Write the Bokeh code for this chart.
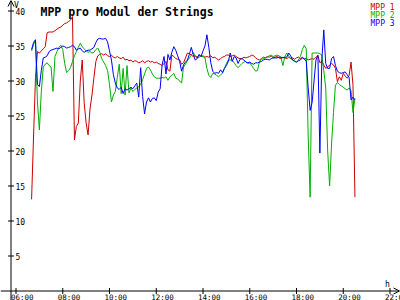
import numpy as np
from bokeh.plotting import figure
from bokeh.models import Arrow, OpenHead, Label
from bokeh.core.properties import value
from bokeh.embed import file_html
from bokeh.resources import INLINE

# ---------------- data ----------------
START_HOUR = 6 + 40 / 60      # first sample 06:40
STEP_MIN = 5                  # logger interval (minutes)

mpp1 = [13.1, 22.0, 30.5, 34.2, 34.0, 34.3, 34.6, 34.9, 36.9, 37.0,
        37.0, 37.0, 37.2, 37.4, 37.6, 37.7, 38.0, 38.2, 38.3, 38.5,
        38.7, 39.2, 21.6, 23.5, 24.0, 30.0, 33.0, 26.9, 24.0, 22.3,
        26.0, 28.0, 30.5, 32.8, 33.6, 33.8,
        33.9, 33.7, 33.9, 33.6, 33.5, 33.7, 33.4, 33.3, 33.5, 33.3,
        33.2, 33.4, 33.0, 33.1, 32.9, 33.0, 32.7, 32.9, 32.8, 32.6,
        32.7, 32.9, 32.6, 32.8, 32.9, 32.7, 32.8, 32.6, 32.7, 32.5,
        32.4, 32.2, 32.5, 32.8, 31.6, 31.4, 33.7, 33.5, 33.2,
        33.1, 33.0, 32.4, 32.6, 33.3, 34.0, 33.9, 33.7, 33.5, 33.6,
        33.4, 33.7, 33.5, 33.6, 33.4, 33.5, 33.4, 33.6, 33.3, 33.4,
        33.2, 33.0, 33.2, 33.4, 33.5, 33.7, 33.7, 33.5, 33.6, 33.7,
        33.5, 33.3, 33.2, 33.2, 33.4, 33.3, 33.4,
        33.5, 33.7, 33.6, 33.3, 33.1, 33.0, 33.2, 33.4, 33.3, 33.5,
        33.4, 33.6, 33.3, 33.4, 33.5, 33.3, 33.2, 33.4, 33.3, 33.2,
        33.4, 33.2, 33.3, 33.1, 33.3, 33.4, 33.2, 33.4, 33.1, 33.3,
        33.0, 33.1, 33.2, 33.1, 33.4, 33.6, 32.6, 32.8, 32.3, 31.8,
        32.0, 32.3, 32.5, 32.3, 31.8,
        29.9, 30.6, 30.1, 31.1, 30.7, 30.4, 30.8, 32.7, 29.4, 13.4]

mpp2 = [34.3, 35.2, 35.8, 27.0, 23.0, 28.5, 32.0, 32.4, 32.6, 32.2,
        32.0, 28.5, 33.5, 34.2, 34.8, 35.1, 34.5, 32.5, 31.2, 31.5,
        31.9, 32.8, 33.6, 34.2, 34.8, 35.4, 34.9, 34.6, 34.3, 34.1,
        34.2, 34.0, 34.1, 34.5, 34.7, 34.1,
        33.2, 32.7, 32.2, 31.5, 29.5, 27.0, 28.0, 28.5, 30.5, 32.4,
        28.2, 31.8, 28.0, 32.2, 28.3, 29.0, 28.5, 28.8, 29.0, 29.2,
        29.5, 30.2, 31.0, 31.8, 32.0, 31.6, 31.0, 30.6, 30.4, 30.4,
        30.4, 30.5, 30.4, 30.6, 30.1, 30.6, 30.8, 31.1, 30.4,
        30.3, 30.0, 29.7, 32.0, 32.4, 32.9, 33.3, 33.7, 34.1, 33.5,
        33.3, 33.4, 33.6, 33.5, 33.3, 31.8, 30.8, 30.5, 31.1, 31.0,
        30.8, 30.6, 30.9, 31.1, 31.8, 32.5, 33.0, 33.0, 33.0, 32.6,
        32.2, 31.9, 32.2, 32.5, 32.7, 32.8, 32.5,
        32.6, 32.2, 31.8, 31.4, 31.5, 32.8, 33.1, 33.2, 33.3, 33.4,
        33.6, 33.7, 33.5, 33.6, 33.7, 33.6, 33.4, 32.2, 33.5, 34.0,
        33.6, 33.2, 33.0, 32.9, 32.7, 33.0, 33.5, 34.5, 35.1, 34.6,
        22.0, 13.4, 34.0, 34.0, 34.0, 34.0, 33.9, 33.7, 31.5, 29.0,
        20.0, 15.0, 21.0, 25.5, 29.4, 29.8, 29.5, 29.3, 29.1, 28.9,
        28.7, 29.0, 28.6, 25.5, 27.5]

mpp3 = [34.5, 35.5, 35.9, 29.5, 29.2, 31.5, 33.3, 33.4, 33.6, 34.2,
        34.4, 34.5, 34.6, 34.7, 34.6, 34.8, 35.0, 34.9, 34.7, 34.8,
        34.9, 35.1, 34.9, 34.4, 34.6, 34.7, 34.3, 34.1, 34.3, 34.4,
        34.4, 34.6, 34.8, 35.5, 36.0, 36.1,
        36.0, 36.0, 36.1, 35.6, 34.3, 33.0, 30.9, 29.7, 29.0, 28.8,
        29.1, 28.2, 28.9, 28.7, 28.9, 29.1, 28.9, 29.3, 29.7, 27.7,
        31.9, 27.8, 25.3, 27.0, 27.6, 27.0, 27.5, 27.6, 27.2, 28.4,
        28.9, 32.3, 33.5, 31.0, 33.8, 33.0, 34.1, 34.9, 34.4,
        33.6, 32.8, 31.4, 32.3, 32.7, 33.0, 33.8, 34.8, 33.8, 33.0,
        33.2, 33.8, 33.5, 34.3, 35.0, 36.6, 34.8, 32.6, 31.4, 31.1,
        31.2, 31.1, 31.6, 31.2, 31.8, 32.2, 32.8, 34.0, 32.8, 33.5,
        33.3, 32.5, 33.1, 33.2, 33.0, 32.7, 32.6,
        32.7, 32.5, 32.4, 32.6, 32.6, 32.7, 32.8, 33.0, 33.1, 33.1,
        33.0, 33.2, 33.3, 33.3, 33.3, 33.4, 33.4, 33.3, 33.4, 33.4,
        34.0, 33.6, 33.0, 32.8, 32.7, 32.9, 33.0, 33.3, 33.2, 32.8,
        29.0, 25.8, 26.9, 30.0, 33.0, 33.7, 19.7, 33.0, 37.3, 32.5,
        31.8, 31.8, 33.2, 33.5, 32.2, 31.4, 31.2, 31.1, 31.2, 31.3,
        30.9, 30.5, 27.3, 27.7, 27.3]

series_names = ["MPP 1", "MPP 2", "MPP 3"]
series_colors = ["#cc0000", "#00b000", "#0000ff"]

x_ticks = [6, 8, 10, 12, 14, 16, 18, 20, 22]
x_tick_labels = ["06:00", "08:00", "10:00", "12:00", "14:00",
                 "16:00", "18:00", "20:00", "22:00"]
y_ticks = [5, 10, 15, 20, 25, 30, 35, 40]
y_tick_labels = ["5", "10", "15", "20", "25", "30", "35", "40"]

title_text = "MPP pro Modul der Strings"
y_unit = "V"
x_unit = "h"

# ---------------- layout ----------------
W, H = 400, 300
PX_PER_H = 23.375
PX_PER_V = 7.0
x_lo = 6 - 15.5 / PX_PER_H
x_hi = x_lo + W / PX_PER_H
y_hi = 290.5 / PX_PER_V
y_lo = y_hi - H / PX_PER_V
Y_AXIS_X = x_lo + 10.5 / PX_PER_H      # hour value where the y axis sits

FONT = value("DejaVu Sans Mono")

p = figure(width=W, height=H, x_range=(x_lo, x_hi), y_range=(y_lo, y_hi),
           x_axis_type=None, y_axis_type=None, toolbar_location=None,
           output_backend="svg", min_border=0)
p.outline_line_color = None
p.background_fill_color = "white"
p.border_fill_color = "white"

# data lines
for vals, col in zip([mpp1, mpp2, mpp3], series_colors):
    hrs = START_HOUR + np.arange(len(vals)) * STEP_MIN / 60
    p.line(hrs, vals, line_color=col, line_width=1)

# axes with arrows
p.add_layout(Arrow(end=OpenHead(size=6, line_width=1, line_color="black"),
                   x_start=x_lo, y_start=0, x_end=x_hi - 1 / PX_PER_H, y_end=0,
                   line_color="black", line_width=1))
p.add_layout(Arrow(end=OpenHead(size=6, line_width=1, line_color="black"),
                   x_start=Y_AXIS_X, y_start=y_lo, x_end=Y_AXIS_X, y_end=y_hi,
                   line_color="black", line_width=1))

# ticks
p.scatter([Y_AXIS_X] * len(y_ticks), y_ticks, marker="dash", size=6,
          line_color="black", line_width=1)
p.scatter(x_ticks, [0] * len(x_ticks), marker="dash", size=6, angle=np.pi / 2,
          line_color="black", line_width=1)

# tick labels
p.text(x=x_ticks, y=[0] * len(x_ticks), text=x_tick_labels,
       x_offset=-5, y_offset=6, text_font=FONT, text_font_size="7.5px",
       text_align="left", text_baseline="alphabetic", text_color="black")
p.text(x=[Y_AXIS_X] * len(y_ticks), y=y_ticks, text=y_tick_labels,
       x_offset=4.5, y_offset=0.5, text_font=FONT, text_font_size="8px",
       text_align="left", text_baseline="middle", text_color="black")

# unit labels
p.add_layout(Label(x=Y_AXIS_X, y=40, text=y_unit, x_offset=3, y_offset=5.5,
                   text_font="DejaVu Sans Mono", text_font_size="8px",
                   text_align="left", text_baseline="alphabetic",
                   text_color="black"))
p.add_layout(Label(x=22, y=0, text=x_unit, x_offset=-5, y_offset=6.5,
                   text_font="DejaVu Sans Mono", text_font_size="8px",
                   text_align="left", text_baseline="alphabetic",
                   text_color="black"))

# title
p.text(x=[Y_AXIS_X], y=[40], text=[title_text], x_offset=29.5, y_offset=1.2,
       text_font=FONT, text_font_size="11.5px", text_font_style="bold",
       text_align="left", text_baseline="alphabetic", text_color="black")

# legend (coloured names, top right)
for k, (name, col) in enumerate(zip(series_names, series_colors)):
    p.text(x=[22], y=[40], text=[name], x_offset=-19.5, y_offset=-3.5 + 7.8 * k,
           text_font=FONT, text_font_size="8px", text_align="left",
           text_baseline="alphabetic", text_color=col)

open("out.html", "w").write(file_html(p, INLINE))
